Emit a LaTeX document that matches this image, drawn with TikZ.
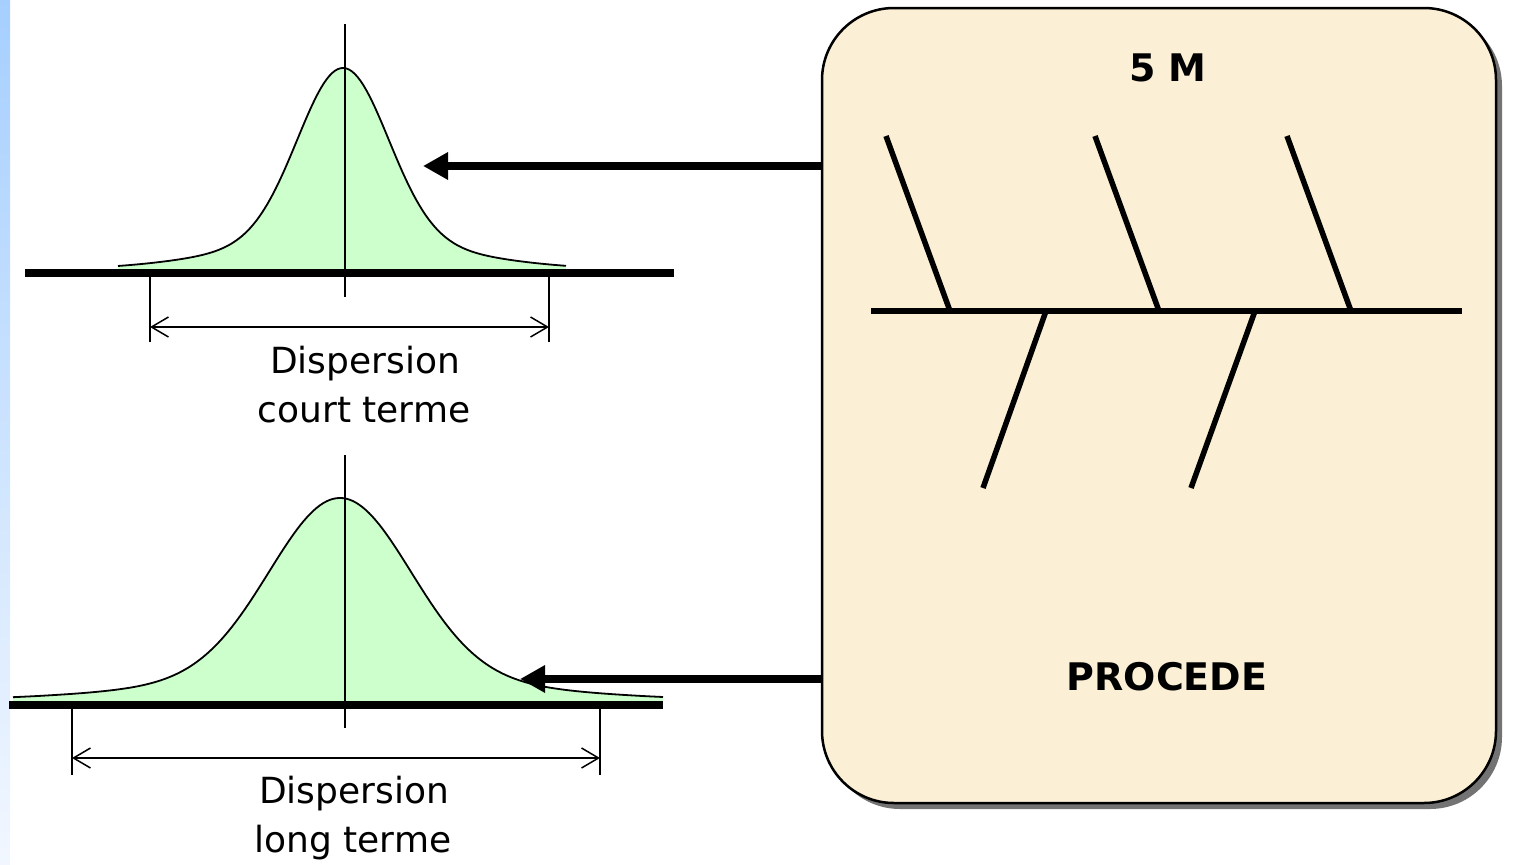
\documentclass[tikz,border=0pt]{standalone}
\usepackage{fontspec}
\setmainfont{DejaVu Sans}
\usetikzlibrary{arrows.meta,shadows}
\definecolor{bell}{RGB}{204,255,204}
\definecolor{parch}{RGB}{251,239,213}
\definecolor{stripA}{RGB}{166,207,255}
\definecolor{stripB}{RGB}{242,247,255}
\tikzset{
  lbl/.style={inner sep=0pt, font=\fontsize{36}{43}\selectfont},
  boldlbl/.style={inner sep=0pt, font=\fontsize{38}{45}\selectfont\bfseries},
  procbox/.style={draw=black, line width=2.5pt, fill=parch, rounded corners=72pt,
    drop shadow={shadow xshift=6pt, shadow yshift=-6pt, fill=black!55, opacity=1}},
  bigarrow/.style={line width=8.5pt, -{Triangle[length=25pt,width=26pt]}},
  axisline/.style={line width=8.5pt},
  midline/.style={line width=1.8pt},
  bellfill/.style={fill=bell},
  bellcurve/.style={draw=black, line width=1.8pt},
  dimline/.style={line width=1.5pt},
  dimarrow/.style={line width=1.5pt, {Straight Barb[length=17pt,width=20pt]}-{Straight Barb[length=17pt,width=20pt]}},
  bone/.style={line width=5.5pt}
}
\begin{document}
\begin{tikzpicture}[x=1pt,y=-1pt]
\useasboundingbox (0,0) rectangle (1516,865);
% left strip
\shade[top color=stripA, bottom color=stripB] (0,0) rectangle (10,865);

% process box
\node[procbox, minimum width=674pt, minimum height=795pt] (box) at (1159,405.5) {};
\node[boldlbl] (fiveM) at (1168,68) {5 M};
\node[boldlbl] (proc) at (1167,677) {PROCEDE};

% fishbone
\draw[bone] (871,311) -- (1462,311);
\draw[bone] (886,136) -- (950,311);
\draw[bone] (1095,136) -- (1159,311);
\draw[bone] (1287,136) -- (1351,311);
\draw[bone] (1046,311) -- (983,488);
\draw[bone] (1255,311) -- (1191,488);

% top bell curve
\path[bellfill] (118,272) -- plot[domain=-225:223, samples=160, variable=\t]
  ({343+\t},{270-202*(0.85*exp(-0.5*(\t/45)^2)+0.15*exp(-0.5*(\t/112)^2))}) -- (566,272) -- cycle;
\draw[bellcurve] plot[domain=-225:223, samples=160, variable=\t]
  ({343+\t},{270-202*(0.85*exp(-0.5*(\t/45)^2)+0.15*exp(-0.5*(\t/112)^2))});
\draw[axisline] (25,273) -- (674,273);
\draw[midline] (345,24) -- (345,297);
\draw[dimline] (150,277) -- (150,342);
\draw[dimline] (549,277) -- (549,342);
\coordinate (dA1) at (150,327);
\coordinate (dA2) at (549,327);
\draw[dimarrow] (dA1) -- (dA2);
\node[lbl, anchor=base] (t1) at (365,373) {Dispersion};
\node[lbl, anchor=base] (t2) at (364,422) {court terme};

% bottom bell curve
\path[bellfill] (13,704) -- plot[domain=-327:323, samples=200, variable=\t]
  ({340+\t},{701-203*(0.88*exp(-0.5*(\t/70)^2)+0.12*exp(-0.5*(\t/170)^2))}) -- (663,704) -- cycle;
\draw[bellcurve] plot[domain=-327:323, samples=200, variable=\t]
  ({340+\t},{701-203*(0.88*exp(-0.5*(\t/70)^2)+0.12*exp(-0.5*(\t/170)^2))});
\draw[axisline] (9,705) -- (663,705);
\draw[midline] (345,455) -- (345,728);
\draw[dimline] (72,708) -- (72,775);
\draw[dimline] (600,708) -- (600,775);
\coordinate (dB1) at (72,758);
\coordinate (dB2) at (600,758);
\draw[dimarrow] (dB1) -- (dB2);
\node[lbl, anchor=base] (b1) at (354,803) {Dispersion};
\node[lbl, anchor=base] (b2) at (353,852) {long terme};

% arrows from box
\coordinate (tipA) at (423,166);
\coordinate (tipB) at (520,679);
\draw[bigarrow] (box.west |- tipA) -- (tipA);
\draw[bigarrow] (box.west |- tipB) -- (tipB);
\end{tikzpicture}
\end{document}
